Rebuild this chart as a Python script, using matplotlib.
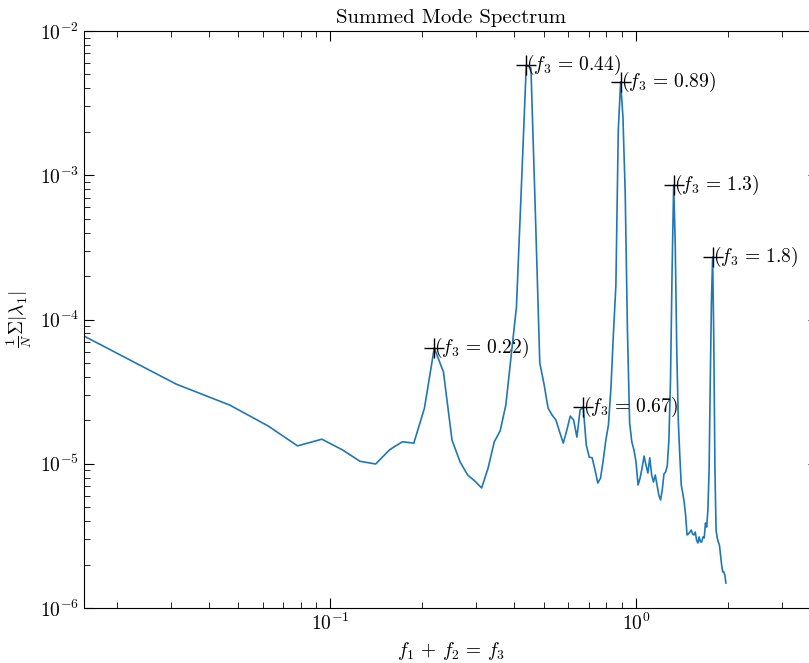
import numpy as np
import matplotlib
matplotlib.use('Agg')
import matplotlib.pyplot as plt

plt.rcParams['mathtext.fontset'] = 'cm'
plt.rcParams['font.family'] = 'serif'
plt.rcParams['font.serif'] = ['cmr10']
plt.rcParams['axes.formatter.use_mathtext'] = True
plt.rcParams['axes.unicode_minus'] = False

# frequency bins k/64, k = 1..126
k = np.arange(1, 127)
f3 = k / 64.0

spectrum = [
    7.68e-5, 3.57e-5, 2.55e-5, 1.83e-5, 1.33e-5, 1.48e-5, 1.25e-5, 1.04e-5, 9.96e-6, 1.25e-5,
    1.42e-5, 1.39e-5, 2.43e-5, 6.34e-5, 4.33e-5, 1.46e-5, 1.03e-5, 8.36e-6, 7.59e-6, 6.79e-6,
    9.34e-6, 1.42e-5, 1.69e-5, 2.55e-5, 5.67e-5, 1.22e-4, 8.56e-4, 5.81e-3, 5.54e-3, 5.30e-4,
    4.99e-5, 3.57e-5, 2.43e-5, 2.18e-5, 2.01e-5, 1.66e-5, 1.39e-5, 1.71e-5, 2.14e-5, 2.01e-5,
    1.53e-5, 2.36e-5, 2.47e-5, 1.35e-5, 1.11e-5, 1.10e-5, 9.05e-6, 7.35e-6, 7.96e-6, 1.06e-5,
    1.46e-5, 1.86e-5, 3.40e-5, 8.06e-5, 1.73e-4, 2.06e-3, 4.43e-3, 2.53e-3, 7.53e-4, 8.45e-5,
    1.92e-5, 1.42e-5, 1.25e-5, 1.03e-5, 7.12e-6, 7.96e-6, 9.34e-6, 1.13e-5, 9.80e-6, 8.63e-6,
    1.10e-5, 8.36e-6, 7.47e-6, 8.36e-6, 7.12e-6, 6.07e-6, 5.61e-6, 6.58e-6, 8.49e-6, 8.77e-6,
    9.65e-6, 1.46e-5, 3.81e-5, 2.20e-4, 8.56e-4, 3.39e-4, 6.14e-5, 2.01e-5, 1.15e-5, 7.12e-6,
    6.27e-6, 5.43e-6, 4.41e-6, 3.21e-6, 3.26e-6, 3.36e-6, 3.47e-6, 3.26e-6, 3.21e-6, 3.36e-6,
    2.96e-6, 2.82e-6, 3.11e-6, 2.87e-6, 2.87e-6, 3.11e-6, 3.06e-6, 3.88e-6, 3.64e-6, 4.78e-6,
    9.05e-6, 3.81e-5, 1.36e-4, 2.71e-4, 7.21e-5, 9.05e-6, 3.47e-6, 3.06e-6, 2.87e-6, 2.73e-6,
    2.33e-6, 1.99e-6, 1.78e-6, 1.78e-6, 1.69e-6, 1.49e-6,
]

# peaks that get a marker and a label
peak_bins = [14, 28, 43, 57, 85, 114]
peak_labels = ['0.22', '0.44', '0.67', '0.89', '1.3', '1.8']

spectrum = np.array(spectrum)

fig = plt.figure(figsize=(8.09, 6.63), dpi=100)
ax = fig.add_axes([84 / 809, 55 / 663, 734 / 809, 577 / 663])

ax.plot(f3, spectrum, color='#1f77b4', lw=1.2)
for b, lab in zip(peak_bins, peak_labels):
    x = f3[b - 1]
    y = spectrum[b - 1]
    ax.plot(x, y, '+', color='k', markersize=14, markeredgewidth=1.0)
    ax.text(x, y, r'$(f_3\,=\,%s)$' % lab, fontsize=14, va='center', ha='left')

ax.set_xscale('log')
ax.set_yscale('log')
ax.set_xlim(f3[0], 3.94)
ax.set_ylim(1e-6, 1e-2)

ax.tick_params(which='both', direction='in', top=True, right=True, labelsize=14)
ax.tick_params(which='major', length=7)
ax.tick_params(which='minor', length=4)

ax.set_title('Summed Mode Spectrum', fontsize=15)
ax.set_xlabel(r'$f_1\,+\,f_2\,=\,f_3$', fontsize=14)
ax.set_ylabel(r'$\frac{1}{N}\Sigma|\lambda_1|$', fontsize=14)

fig.savefig('out.png', dpi=100)
